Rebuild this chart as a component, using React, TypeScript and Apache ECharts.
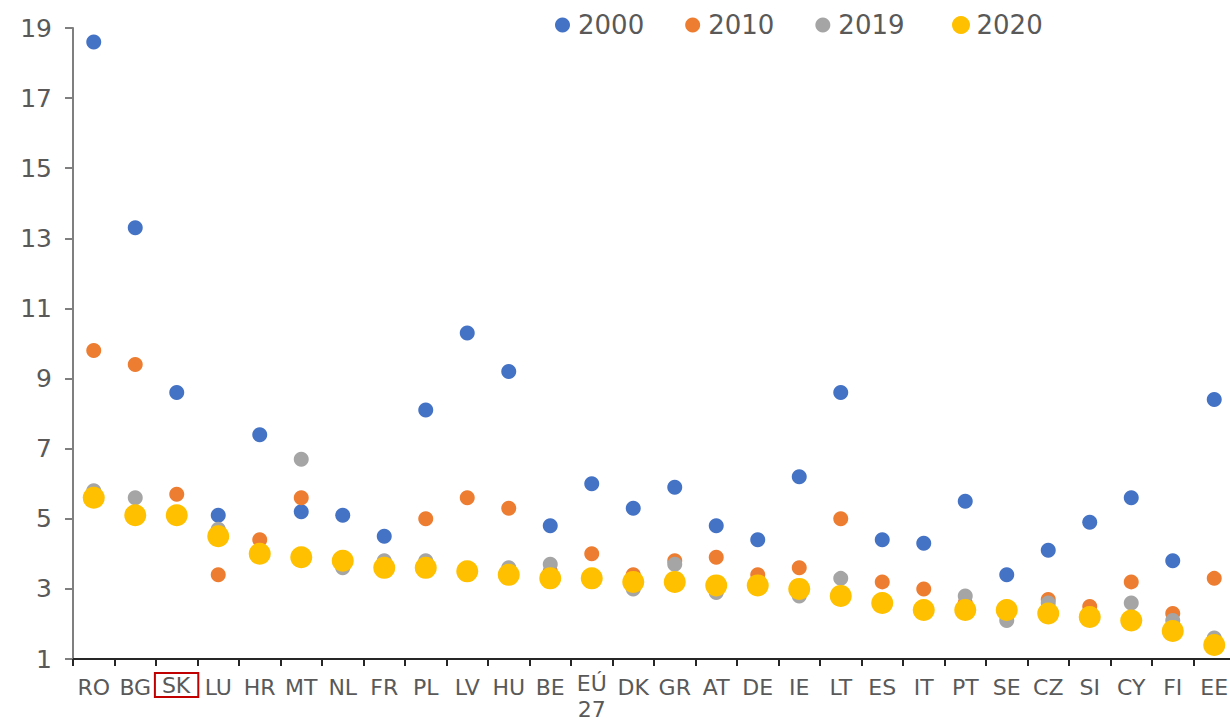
import React, { useEffect, useRef } from "react";
import * as echarts from "echarts";

const categories = ["RO","BG","SK","LU","HR","MT","NL","FR","PL","LV","HU","BE","EÚ\n27","DK","GR","AT","DE","IE","LT","ES","IT","PT","SE","CZ","SI","CY","FI","EE"];
const v2000 = [18.6,13.3,8.6,5.1,7.4,5.2,5.1,4.5,8.1,10.3,9.2,4.8,6.0,5.3,5.9,4.8,4.4,6.2,8.6,4.4,4.3,5.5,3.4,4.1,4.9,5.6,3.8,8.4];
const v2010 = [9.8,9.4,5.7,3.4,4.4,5.6,3.7,3.7,5.0,5.6,5.3,3.5,4.0,3.4,3.8,3.9,3.4,3.6,5.0,3.2,3.0,2.6,2.4,2.7,2.5,3.2,2.3,3.3];
const v2019 = [5.8,5.6,5.1,4.7,4.0,6.7,3.6,3.8,3.8,3.5,3.6,3.7,3.3,3.0,3.7,2.9,3.1,2.8,3.3,2.6,2.4,2.8,2.1,2.6,2.2,2.6,2.1,1.6];
const v2020 = [5.6,5.1,5.1,4.5,4.0,3.9,3.8,3.6,3.6,3.5,3.4,3.3,3.3,3.2,3.2,3.1,3.1,3.0,2.8,2.6,2.4,2.4,2.4,2.3,2.2,2.1,1.8,1.4];
const yTicks = { min: 1, max: 19, interval: 2 };
const highlighted = "SK";

const FONT = "'DejaVu Sans', Verdana, sans-serif";
const TEXT = "#595959";

export default function App() {
  const ref = useRef<HTMLDivElement>(null);
  useEffect(() => {
    document.body.style.margin = "0";
    const chart = echarts.init(ref.current!, null, { renderer: "svg" });
    const mk = (name: string, data: number[], color: string, size: number) => ({
      name,
      type: "scatter",
      data,
      symbol: "circle",
      symbolSize: size,
      itemStyle: { color, opacity: 1 },
      emphasis: { disabled: true },
    });
    chart.setOption({
      animation: false,
      textStyle: { fontFamily: FONT },
      legend: [
        {
          data: ["2000", "2010", "2019"],
          left: 550,
          top: 7,
          icon: "circle",
          itemWidth: 21,
          itemHeight: 15,
          itemGap: 41,
          textStyle: { fontSize: 26, color: TEXT, fontFamily: FONT },
        },
        {
          data: ["2020"],
          left: 947,
          top: 7,
          icon: "circle",
          itemWidth: 21,
          itemHeight: 18,
          textStyle: { fontSize: 26, color: TEXT, fontFamily: FONT },
        },
      ],
      grid: { left: 73, top: 28, bottom: 62, right: -5, outerBoundsMode: "none", containLabel: false },
      xAxis: {
        type: "category",
        data: categories,
        boundaryGap: true,
        axisLine: { lineStyle: { color: "#262626", width: 2 } },
        axisTick: { show: true, length: 7, alignWithLabel: false, lineStyle: { color: "#262626", width: 2 } },
        axisLabel: {
          interval: 0,
          margin: 11,
          fontSize: 22,
          lineHeight: 34,
          color: TEXT,
          fontFamily: FONT,
          formatter: (v: string) => {
            if (v === highlighted) return `{box|${v}}{pad| }`;
            if (v.indexOf("\n") >= 0) return v.split("\n").map((s) => `{two|${s}}`).join("\n");
            return v;
          },
          rich: {
            box: {
              fontSize: 22,
              color: TEXT,
              fontFamily: FONT,
              lineHeight: 20,
              borderColor: "#C00000",
              borderWidth: 2,
              padding: [1, 8, 1, 7],
            },
            pad: { fontSize: 1, lineHeight: 30 },
            two: { fontSize: 22, color: TEXT, fontFamily: FONT, lineHeight: 26 },
          },
        },
        splitLine: { show: false },
      },
      yAxis: {
        type: "value",
        min: yTicks.min,
        max: yTicks.max,
        interval: yTicks.interval,
        axisLine: { show: true, lineStyle: { color: "#7F7F7F", width: 2 } },
        axisTick: { show: true, length: 8, lineStyle: { color: "#7F7F7F", width: 2 } },
        axisLabel: { margin: 21, fontSize: 25, color: TEXT, fontFamily: FONT },
        splitLine: { show: false },
      },
      series: [
        mk("2000", v2000, "#4472C4", 15),
        mk("2010", v2010, "#ED7D31", 15),
        mk("2019", v2019, "#A5A5A5", 15),
        mk("2020", v2020, "#FFC000", 22),
      ],
    });
    return () => chart.dispose();
  }, []);
  return <div ref={ref} style={{ width: 1230, height: 721 }} />;
}
